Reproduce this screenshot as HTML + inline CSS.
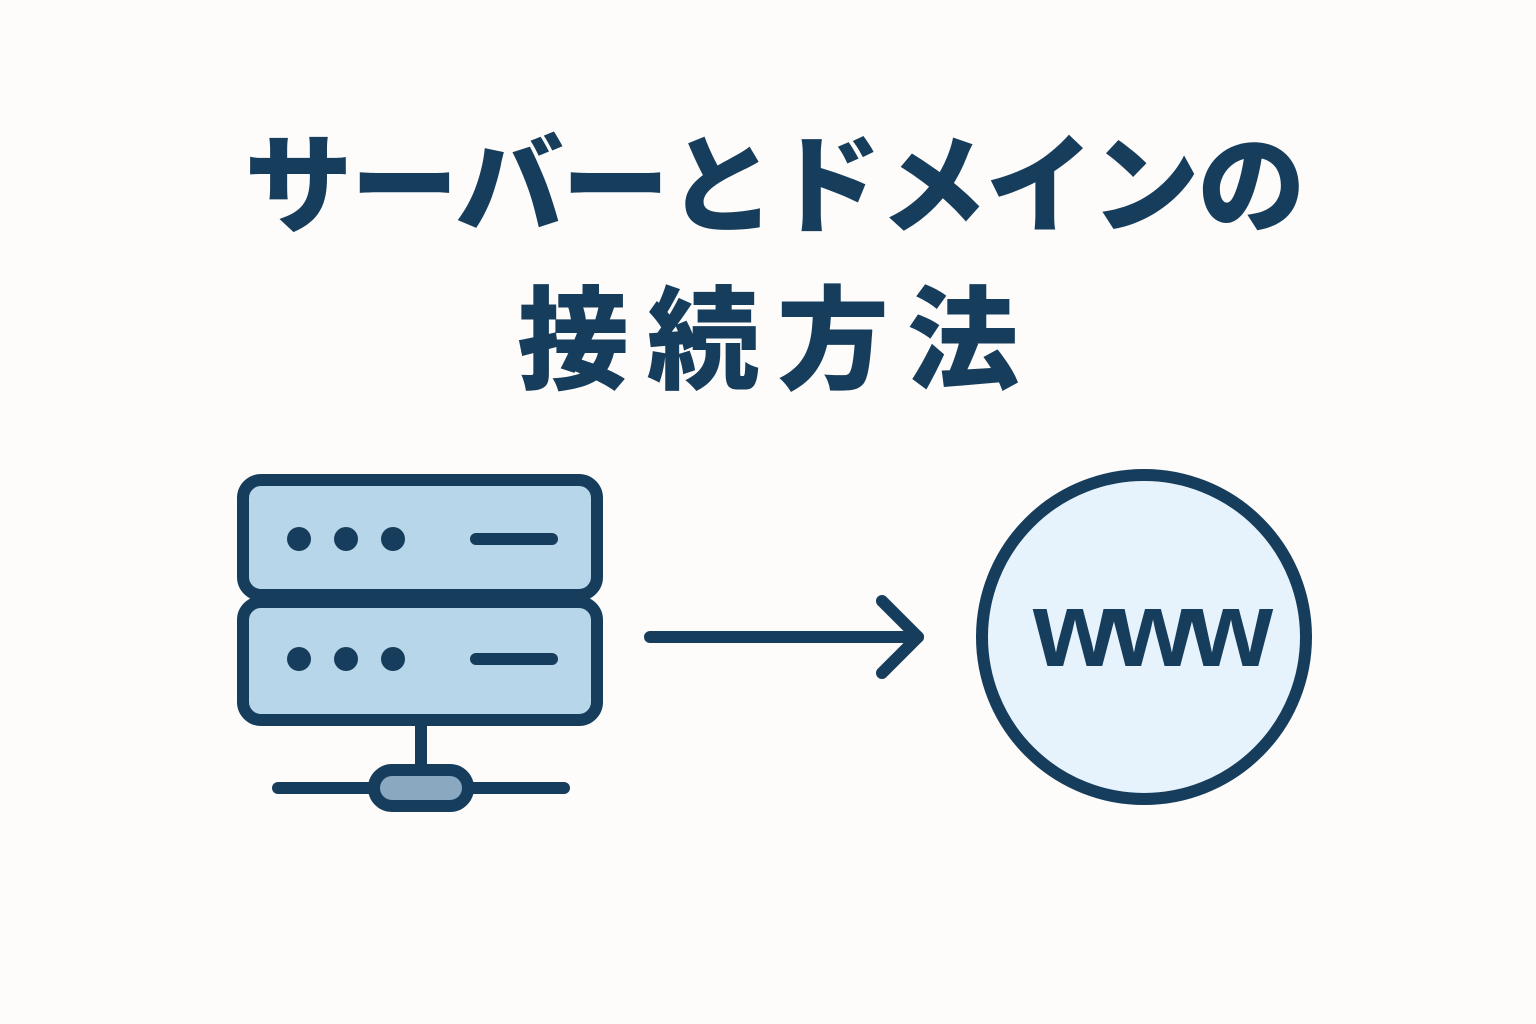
<!DOCTYPE html>
<html><head><meta charset="utf-8"><style>
html,body{margin:0;padding:0;background:#fdfcfa;}
.wrap{position:relative;width:1536px;height:1024px;overflow:hidden;}
.t{position:absolute;left:0;width:1536px;text-align:center;color:#173d5c;font-family:"Liberation Sans","Noto Sans CJK JP",sans-serif;font-weight:900;white-space:nowrap;}
</style></head><body><div class="wrap">
<div class="t" style="top:122px;font-size:108px;line-height:130px;letter-spacing:-2px;padding-left:12px;box-sizing:border-box;">サーバーとドメインの</div>
<div class="t" style="top:277px;font-size:112px;line-height:130px;letter-spacing:18px;padding-left:18px;box-sizing:border-box;">接続方法</div>
<svg width="1536" height="1024" style="position:absolute;left:0;top:0">
<g stroke="#173d5c" stroke-width="12" stroke-linecap="round" stroke-linejoin="round">
<rect x="243" y="480" width="354" height="115" rx="18" fill="#b8d6ea"/>
<rect x="243" y="602" width="354" height="118" rx="18" fill="#b8d6ea"/>
<line x1="476" y1="539" x2="552" y2="539"/>
<line x1="476" y1="659" x2="552" y2="659"/>
<line x1="421" y1="722" x2="421" y2="770"/>
<line x1="278" y1="788" x2="564" y2="788"/>
<rect x="374" y="770" width="94" height="36" rx="18" fill="#8aa8c0"/>
<line x1="650" y1="637" x2="918" y2="637"/>
<polyline points="882,601 918,637 882,673" fill="none"/>
<circle cx="1144" cy="637" r="162" fill="#e6f3fd"/>
</g>
<g fill="#173d5c">
<circle cx="299" cy="539" r="12"/><circle cx="346" cy="539" r="12"/><circle cx="393" cy="539" r="12"/>
<circle cx="299" cy="659" r="12"/><circle cx="346" cy="659" r="12"/><circle cx="393" cy="659" r="12"/>
</g>
<text x="1150" y="666" text-anchor="middle" font-family="Liberation Sans, sans-serif" font-weight="700" font-size="108" fill="#173d5c" letter-spacing="-6">www</text>
</svg>
</div></body></html>
